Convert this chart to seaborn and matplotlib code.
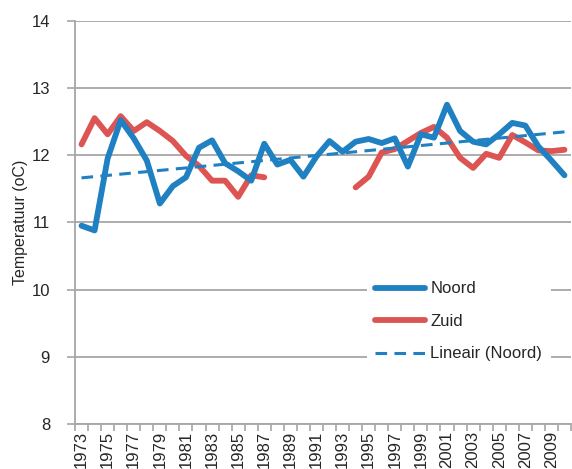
import numpy as np
import pandas as pd
import matplotlib
matplotlib.use("Agg")
import matplotlib.pyplot as plt
from matplotlib.lines import Line2D
import seaborn as sns

years = list(range(1973, 2011))
noord = [10.95, 10.88, 11.95, 12.52, 12.25, 11.92, 11.28, 11.54, 11.67, 12.11,
         12.22, 11.88, 11.76, 11.62, 12.17, 11.86, 11.93, 11.68, 11.98, 12.21,
         12.05, 12.20, 12.24, 12.18, 12.25, 11.83, 12.31, 12.26, 12.75, 12.36,
         12.20, 12.16, 12.31, 12.48, 12.44, 12.13, 11.92, 11.70]
zuid = [12.16, 12.55, 12.31, 12.58, 12.36, 12.49, 12.36, 12.21, 11.99, 11.84,
        11.62, 11.62, 11.38, 11.70, 11.67, np.nan, np.nan, np.nan, np.nan, np.nan,
        np.nan, 11.52, 11.68, 12.04, 12.09, 12.21, 12.33, 12.42, 12.26, 11.96,
        11.81, 12.02, 11.96, 12.30, 12.19, 12.07, 12.06, 12.08]
tick_years = list(range(1973, 2010, 2))
ylabel = "Temperatuur (oC)"
labels = ["Noord", "Zuid", "Lineair (Noord)"]

blue = "#1f80c2"
red = "#dc5552"
grid_c = "#a6a6a6"
txt_c = "#262626"
LW = 4.2

sns.set_style("white")
plt.rcParams['font.family'] = ['Liberation Sans', 'DejaVu Sans']

df_n = pd.DataFrame({"year": years, "temp": noord})
df_z = pd.DataFrame({"year": years, "temp": zuid})
df_z["seg"] = (df_z["temp"].isna()).cumsum()
df_z = df_z.dropna()

coef = np.polyfit(years, noord, 1)
df_t = pd.DataFrame({"year": years, "temp": np.polyval(coef, years)})

fig = plt.figure(figsize=(5.72, 4.69), dpi=100)
ax = fig.add_axes([75/572, 45/469, 496/572, 403.3/469])

sns.lineplot(data=df_n, x="year", y="temp", ax=ax, color=blue, lw=LW,
             solid_joinstyle="round", solid_capstyle="round", zorder=3)
sns.lineplot(data=df_z, x="year", y="temp", units="seg", estimator=None, ax=ax,
             color=red, lw=LW, solid_joinstyle="round", solid_capstyle="round", zorder=2)
sns.lineplot(data=df_t, x="year", y="temp", ax=ax, color=blue, lw=2.2,
             dashes=False, zorder=4).lines[-1].set_dashes((3.8, 2.4))

ax.set_xlim(1972.5, 2010.5)
ax.set_ylim(8, 14)
ax.set_yticks(range(8, 15))
ax.set_xticks(tick_years)
ax.set_xticklabels([str(y) for y in tick_years], rotation=90, fontsize=12, color=txt_c)
ax.set_xticks(np.arange(1972.5, 2011, 1), minor=True)
ax.tick_params(axis="x", which="major", length=0, pad=5)
ax.tick_params(axis="x", which="minor", length=5, width=1.2, color=grid_c, direction="out", bottom=True)
ax.tick_params(axis="y", length=6, width=1.2, color=grid_c, direction="out", left=True, pad=12,
               labelsize=12, labelcolor=txt_c)
ax.grid(axis="y", color=grid_c, lw=1.3)
ax.set_axisbelow(True)
for s in ["top", "right"]:
    ax.spines[s].set_visible(False)
for s in ["left", "bottom"]:
    ax.spines[s].set_color(grid_c)
    ax.spines[s].set_linewidth(1.3)
ax.set_xlabel("")
ax.set_ylabel(ylabel, fontsize=11.5, color=txt_c)
ax.yaxis.set_label_coords(-47/496, 0.5)

handles = [Line2D([], [], color=blue, lw=LW, solid_capstyle="round"),
           Line2D([], [], color=red, lw=LW, solid_capstyle="round"),
           Line2D([], [], color=blue, lw=2.2, dashes=(3.8, 2.4))]
leg = ax.legend(handles, labels, loc="upper left", bbox_to_anchor=(0.572, 0.395),
                fontsize=12, frameon=True, facecolor="white", edgecolor="none",
                framealpha=1, handlelength=3.0, handletextpad=0.3, labelspacing=1.05,
                borderpad=0.5, fancybox=False)
for t in leg.get_texts():
    t.set_color(txt_c)

fig.savefig("out.png", dpi=100)
